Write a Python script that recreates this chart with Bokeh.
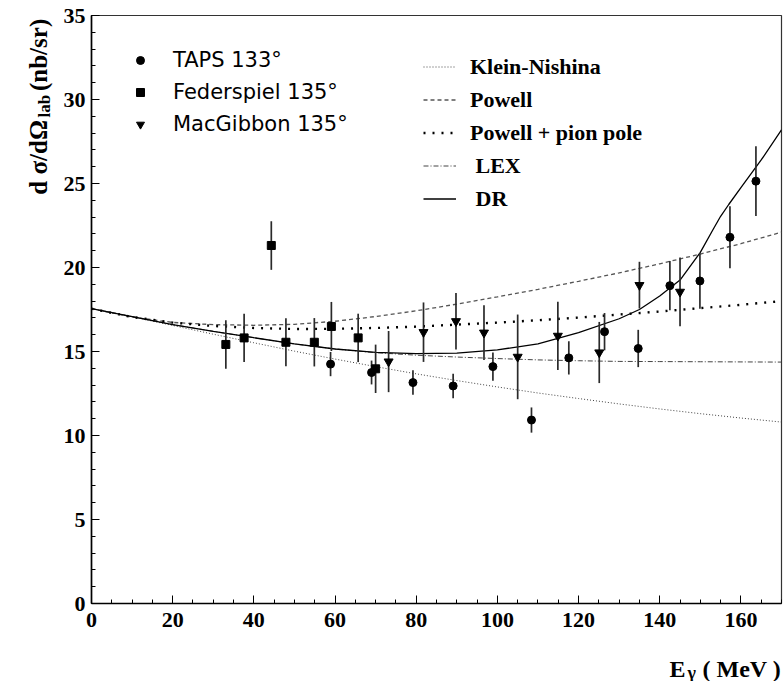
import math
from bokeh.plotting import figure
from bokeh.layouts import column, row
from bokeh.models import Legend, LegendItem, SingleIntervalTicker, Range1d
from bokeh.core.properties import value
from bokeh.embed import file_html
from bokeh.resources import INLINE

# ---------------- data ----------------
E_taps = [58.9, 69.0, 79.2, 89.1, 98.9, 108.4, 117.6, 126.4, 134.7, 142.5, 149.9, 157.3, 163.7]
v_taps = [14.25, 13.75, 13.15, 12.95, 14.1, 10.92, 14.62, 16.18, 15.18, 18.92, 19.2, 21.8, 25.14]
e_taps = [0.72, 0.71, 0.73, 0.73, 0.84, 0.75, 0.99, 1.11, 1.11, 1.46, 1.65, 1.84, 2.08]

E_fed = [33.1, 37.6, 44.3, 47.9, 54.9, 59.1, 65.7, 70.0]
v_fed = [15.42, 15.81, 21.31, 15.55, 15.55, 16.49, 15.81, 13.97]
e_fed = [1.44, 1.44, 1.45, 1.43, 1.44, 1.46, 1.44, 1.44]

E_mac = [73.2, 81.8, 89.8, 96.7, 105.0, 114.9, 125.1, 135.0, 145.0]
v_mac = [14.4, 16.15, 16.8, 16.12, 14.68, 15.93, 14.94, 18.95, 18.55]
e_mac = [1.82, 1.77, 1.68, 1.63, 2.52, 2.03, 1.82, 1.39, 2.04]

E_curve = [0, 10, 20, 30, 40, 50, 60, 70, 80, 90, 100, 110, 120, 130, 140, 150, 160, 170]
klein_nishina = [17.55, 17.07, 16.55, 16.03, 15.52, 15.02, 14.55, 14.1, 13.67, 13.27, 12.89,
                 12.53, 12.2, 11.88, 11.58, 11.3, 11.04, 10.8]
powell = [17.55, 17.05, 16.73, 16.6, 16.56, 16.62, 16.8, 17.08, 17.42, 17.82, 18.25,
          18.7, 19.18, 19.68, 20.22, 20.8, 21.42, 22.1]
pion_pole = [17.55, 17.05, 16.72, 16.52, 16.4, 16.34, 16.35, 16.4, 16.48, 16.6, 16.72,
             16.86, 17.02, 17.2, 17.38, 17.58, 17.78, 18.0]
lex = [17.55, 17.08, 16.6, 16.2, 15.82, 15.45, 15.15, 14.93, 14.78, 14.67, 14.58,
       14.5, 14.45, 14.41, 14.4, 14.39, 14.38, 14.37]

E_dr = [0, 10, 20, 30, 40, 50, 60, 70, 80, 90, 100, 110, 120, 130, 135, 140, 145, 150,
        153, 155, 157, 160, 165, 170]
dr = [17.55, 17.08, 16.6, 16.2, 15.82, 15.45, 15.15, 14.95, 14.87, 14.9, 15.1, 15.45,
      16.12, 16.95, 17.5, 18.3, 19.25, 20.9, 22.2, 23.05, 23.75, 24.75, 26.4, 28.2]

x_ticks_interval = 20
y_ticks_interval = 5

SERIF = "Liberation Serif"
YPAN_W = 56          # width of the y-title strip
XPAN_H = 41          # height of the x-title strip
TOTAL_W, TOTAL_H = 784, 681

# ---------------- main figure ----------------
p = figure(width=TOTAL_W - YPAN_W, height=TOTAL_H - XPAN_H,
           x_range=Range1d(0, 170), y_range=Range1d(0, 35),
           output_backend="svg", toolbar_location=None,
           min_border_left=91 - YPAN_W, min_border_right=3, min_border_top=15,
           min_border_bottom=37)
p.xgrid.visible = False
p.ygrid.visible = False
p.outline_line_color = "#333333"
p.outline_line_width = 1.2
p.background_fill_color = "white"
p.border_fill_color = "white"

p.xaxis.ticker = SingleIntervalTicker(interval=x_ticks_interval, num_minor_ticks=4)
p.yaxis.ticker = SingleIntervalTicker(interval=y_ticks_interval, num_minor_ticks=5)
for ax in (p.xaxis, p.yaxis):
    ax.axis_line_width = 1.6
    ax.axis_line_color = "black"
    ax.major_tick_in = 8
    ax.major_tick_out = 0
    ax.minor_tick_in = 4
    ax.minor_tick_out = 0
    ax.major_tick_line_color = "black"
    ax.minor_tick_line_color = "black"
    ax.major_label_text_font = SERIF
    ax.major_label_text_font_style = "bold"
    ax.major_label_text_font_size = "22px"
    ax.major_label_text_color = "black"
p.xaxis.major_label_standoff = 9
p.yaxis.major_label_standoff = 6

# ---------------- curves ----------------
r_kn = p.line(E_curve, klein_nishina, line_color="#444444", line_width=1.0, line_dash="1 2")
r_pow = p.line(E_curve, powell, line_color="#555555", line_width=1.3, line_dash="4 3")
r_pp = p.line(E_curve, pion_pole, line_color="black", line_width=2.4, line_dash="2 7")
r_lex = p.line(E_curve, lex, line_color="#444444", line_width=1.0, line_dash="5 2 1 2")
r_dr = p.line(E_dr, dr, line_color="black", line_width=1.3)

# ---------------- data points ----------------
def bars(E, v, e):
    p.segment(x0=E, y0=[a - b for a, b in zip(v, e)], x1=E, y1=[a + b for a, b in zip(v, e)],
              line_color="#2a2a2a", line_width=1.7)

bars(E_taps, v_taps, e_taps)
bars(E_fed, v_fed, e_fed)
bars(E_mac, v_mac, e_mac)
r_taps = p.scatter(E_taps, v_taps, marker="circle", size=8, color="black")
r_fed = p.scatter(E_fed, v_fed, marker="square", size=8, color="black")
r_mac = p.scatter(E_mac, v_mac, marker="inverted_triangle", size=9, color="black")

# ---------------- legends ----------------
leg1 = Legend(items=[LegendItem(label="TAPS 133°", renderers=[r_taps]),
                     LegendItem(label="Federspiel 135°", renderers=[r_fed]),
                     LegendItem(label="MacGibbon 135°", renderers=[r_mac])],
              location=(39, 463), orientation="vertical",
              glyph_width=20, glyph_height=32, label_height=32, spacing=0,
              label_standoff=23, padding=0, margin=0,
              border_line_alpha=0, background_fill_alpha=0,
              label_text_font="DejaVu Sans", label_text_font_size="21px",
              label_text_color="black")
p.add_layout(leg1, "center")

leg2 = Legend(items=[LegendItem(label="Klein-Nishina", renderers=[r_kn]),
                     LegendItem(label="Powell", renderers=[r_pow]),
                     LegendItem(label="Powell + pion pole", renderers=[r_pp]),
                     LegendItem(label="\u00a0LEX", renderers=[r_lex]),
                     LegendItem(label="\u00a0DR", renderers=[r_dr])],
              location=(332, 388), orientation="vertical",
              glyph_width=33, glyph_height=33, label_height=33, spacing=0,
              label_standoff=14, padding=0, margin=0,
              border_line_alpha=0, background_fill_alpha=0,
              label_text_font=SERIF, label_text_font_style="bold",
              label_text_font_size="22px", label_text_color="black")
p.add_layout(leg2, "center")

# ---------------- axis-title strips (pixel coordinate figures) ----------------
def title_panel(w, h):
    f = figure(width=w, height=h, x_range=Range1d(0, w), y_range=Range1d(0, h),
               output_backend="svg", toolbar_location=None, min_border=0)
    f.axis.visible = False
    f.xgrid.visible = False
    f.ygrid.visible = False
    f.outline_line_color = None
    f.border_fill_color = "white"
    f.background_fill_color = "white"
    return f

def put(f, x, y, txt, size, angle=0.0):
    f.text(x=[x], y=[y], text=[txt], angle=angle, text_font=value(SERIF),
           text_font_style="bold", text_font_size=size, text_color="black",
           text_align="left", text_baseline="alphabetic")

ph = TOTAL_H - XPAN_H
ypan = title_panel(YPAN_W, ph)
a = math.pi / 2
put(ypan, 38, ph - 195, "d σ/dΩ", "25px", a)
put(ypan, 44, ph - 195 + 84, "lab", "17px", a)
put(ypan, 38, ph - 195 + 106, "\u00a0(nb/sr)", "25px", a)

xpan = title_panel(TOTAL_W, XPAN_H)
put(xpan, 669, TOTAL_H - 668, "E", "24px")
put(xpan, 687, TOTAL_H - 672, "γ", "18px")
put(xpan, 702, TOTAL_H - 668, "( MeV )", "24px")

layout = column(row(ypan, p, spacing=0), xpan, spacing=0)

open("out.html", "w").write(file_html(layout, INLINE))
